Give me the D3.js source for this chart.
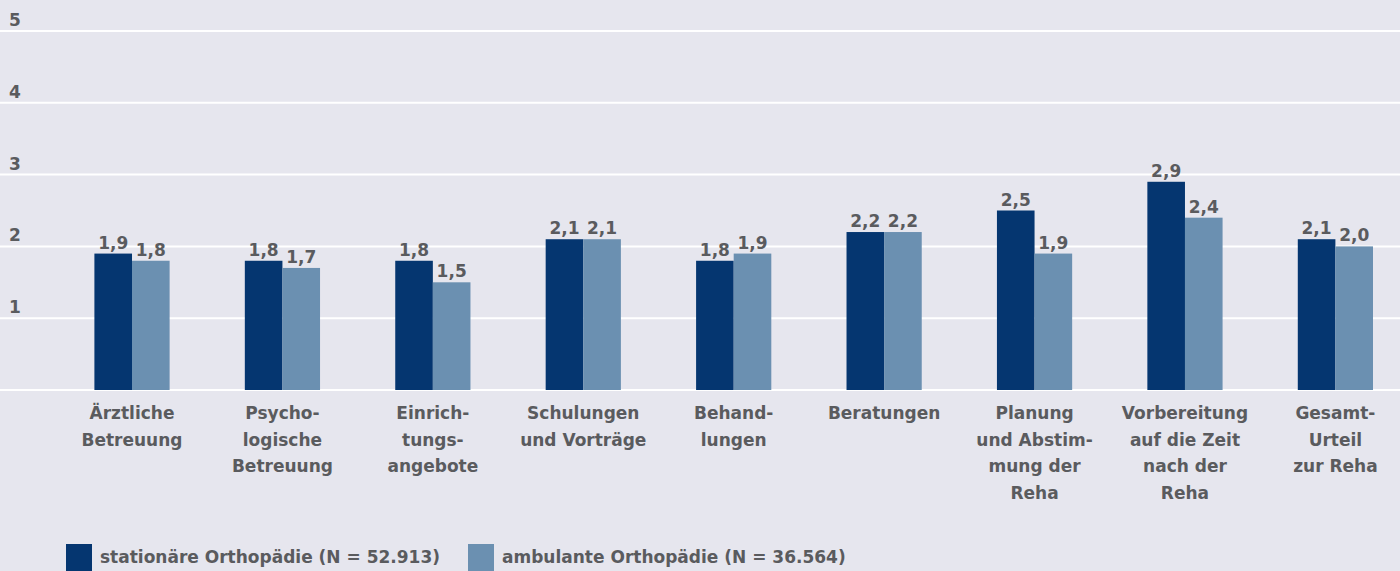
<!DOCTYPE html>
<html>
<head>
<meta charset="utf-8">
<script src="https://cdn.jsdelivr.net/npm/d3@7"></script>
<style>
  html, body { margin: 0; padding: 0; background: #e6e6ee; }
  svg { display: block; font-family: "DejaVu Sans", sans-serif; }
</style>
</head>
<body>
<div id="chart"></div>
<script>
'use strict';

var categories = [
  ['Ärztliche', 'Betreuung'],
  ['Psycho-', 'logische', 'Betreuung'],
  ['Einrich-', 'tungs-', 'angebote'],
  ['Schulungen', 'und Vorträge'],
  ['Behand-', 'lungen'],
  ['Beratungen'],
  ['Planung', 'und Abstim-', 'mung der', 'Reha'],
  ['Vorbereitung', 'auf die Zeit', 'nach der', 'Reha'],
  ['Gesamt-', 'Urteil', 'zur Reha']
];
var stationaer = [1.9, 1.8, 1.8, 2.1, 1.8, 2.2, 2.5, 2.9, 2.1];
var ambulant = [1.8, 1.7, 1.5, 2.1, 1.9, 2.2, 1.9, 2.4, 2.0];
var seriesNames = ['stationäre Orthopädie (N = 52.913)', 'ambulante Orthopädie (N = 36.564)'];
var seriesColors = ['#053670', '#6b90b1'];
var yTicks = [1, 2, 3, 4, 5];

var width = 1400, height = 571;
var textColor = '#5a5b5e';
var fontSize = 17;

var svg = d3.select('#chart').append('svg')
    .attr('width', width)
    .attr('height', height);

svg.append('rect')
    .attr('width', width)
    .attr('height', height)
    .attr('fill', '#e6e6ee');

var y = d3.scaleLinear().domain([0, 5]).range([390, 31]);

var x0 = d3.scaleBand()
    .domain(d3.range(categories.length))
    .range([94.4, 1373])
    .paddingInner(0.5)
    .paddingOuter(0);

var x1 = d3.scaleBand()
    .domain([0, 1])
    .range([0, x0.bandwidth()]);

// gridlines + y labels
svg.selectAll('line.grid')
    .data([0].concat(yTicks))
    .enter()
    .append('line')
    .attr('class', 'grid')
    .attr('x1', 0)
    .attr('x2', width)
    .attr('y1', function(d) { return y(d); })
    .attr('y2', function(d) { return y(d); })
    .attr('stroke', '#ffffff')
    .attr('stroke-width', 2);

svg.selectAll('text.ytick')
    .data(yTicks)
    .enter()
    .append('text')
    .attr('class', 'ytick')
    .attr('x', 9)
    .attr('y', function(d) { return y(d) - 5; })
    .attr('fill', textColor)
    .attr('font-size', fontSize)
    .attr('font-weight', 'bold')
    .text(function(d) { return d; });

var rows = categories.map(function(c, i) {
  return { i: i, values: [stationaer[i], ambulant[i]] };
});

var groups = svg.selectAll('g.group')
    .data(rows)
    .enter()
    .append('g')
    .attr('class', 'group')
    .attr('transform', function(d) { return 'translate(' + x0(d.i) + ',0)'; });

groups.selectAll('rect')
    .data(function(d) { return d.values; })
    .enter()
    .append('rect')
    .attr('x', function(d, j) { return x1(j); })
    .attr('y', function(d) { return y(d); })
    .attr('width', x1.bandwidth())
    .attr('height', function(d) { return y(0) - y(d); })
    .attr('fill', function(d, j) { return seriesColors[j]; });

var fmt = function(v) { return d3.format('.1f')(v).replace('.', ','); };

groups.selectAll('text.val')
    .data(function(d) { return d.values; })
    .enter()
    .append('text')
    .attr('class', 'val')
    .attr('x', function(d, j) { return x1(j) + x1.bandwidth() / 2; })
    .attr('y', function(d) { return y(d) - 5; })
    .attr('text-anchor', 'middle')
    .attr('fill', textColor)
    .attr('font-size', fontSize)
    .attr('font-weight', 'bold')
    .text(fmt);

// category labels
svg.selectAll('text.cat')
    .data(categories)
    .enter()
    .append('text')
    .attr('class', 'cat')
    .attr('text-anchor', 'middle')
    .attr('fill', textColor)
    .attr('font-size', fontSize)
    .attr('font-weight', 'bold')
    .each(function(lines, i) {
      var t = d3.select(this);
      lines.forEach(function(line, k) {
        t.append('tspan')
            .attr('x', x0(i) + x0.bandwidth() / 2)
            .attr('y', 419 + k * 26.5)
            .text(line);
      });
    });

// legend
var legendX = [66, 468];
var legend = svg.selectAll('g.legend')
    .data(seriesNames)
    .enter()
    .append('g')
    .attr('class', 'legend')
    .attr('transform', function(d, j) { return 'translate(' + legendX[j] + ',544)'; });

legend.append('rect')
    .attr('width', 26)
    .attr('height', 27)
    .attr('fill', function(d, j) { return seriesColors[j]; });

legend.append('text')
    .attr('x', 34)
    .attr('y', 19)
    .attr('fill', textColor)
    .attr('font-size', fontSize)
    .attr('font-weight', 'bold')
    .text(function(d) { return d; });
</script>
</body>
</html>
